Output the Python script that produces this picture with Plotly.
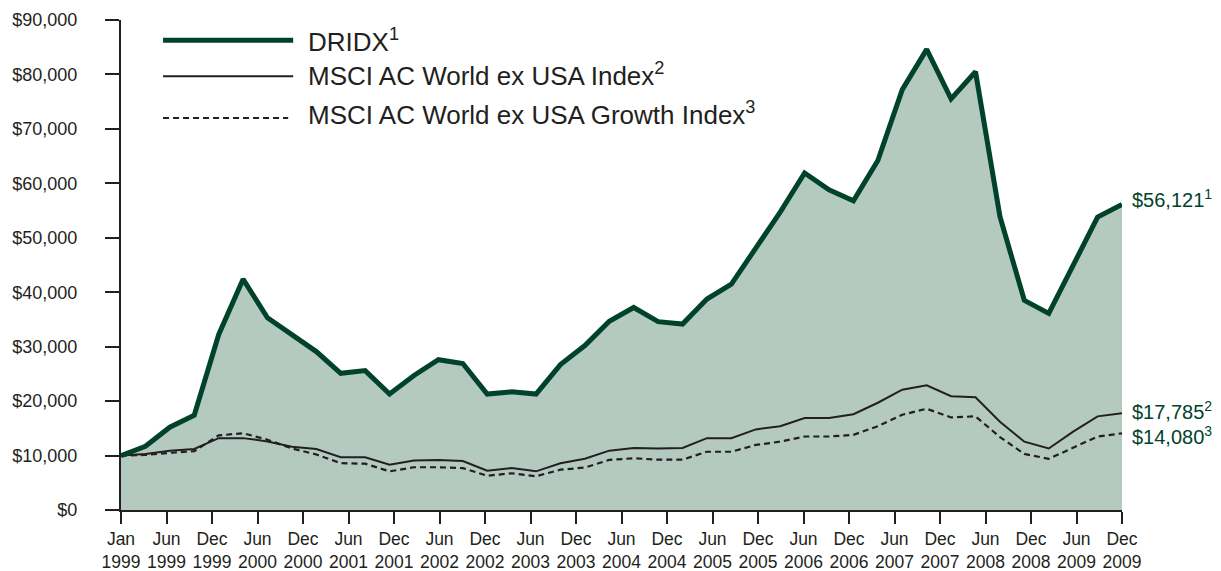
import plotly.graph_objects as go

# growth of $10,000, one value per period (42 points)
dridx = [10000, 11700, 15200, 17400, 32200, 42400, 35300, 32200, 29100, 25100,
         25600, 21300, 24700, 27600, 26900, 21300, 21700, 21300, 26700, 30200,
         34650, 37200, 34600, 34150, 38750, 41500, 48250, 54700, 61900, 58800,
         56800, 64200, 77200, 84600, 75500, 80500, 53900, 38500, 36100, 45200,
         53800, 56121]
msci = [10000, 10300, 10900, 11200, 13200, 13200, 12600, 11600, 11200, 9700,
        9700, 8300, 9100, 9200, 9000, 7200, 7700, 7100, 8600, 9400,
        10900, 11400, 11300, 11400, 13200, 13200, 14800, 15400, 16900, 16900,
        17600, 19700, 22100, 22900, 20900, 20700, 16200, 12550, 11300, 14400,
        17200, 17785]
msci_growth = [10000, 10100, 10500, 10800, 13700, 14100, 12900, 11300, 10200, 8600,
               8500, 7100, 7850, 7850, 7700, 6300, 6750, 6200, 7400, 7800,
               9200, 9500, 9250, 9250, 10700, 10700, 11950, 12550, 13500, 13500,
               13800, 15400, 17500, 18600, 17000, 17200, 13400, 10300, 9400, 11500,
               13500, 14080]

tick_labels = ["Jan<br>1999", "Jun<br>1999", "Dec<br>1999", "Jun<br>2000", "Dec<br>2000",
               "Jun<br>2001", "Dec<br>2001", "Jun<br>2002", "Dec<br>2002", "Jun<br>2003",
               "Dec<br>2003", "Jun<br>2004", "Dec<br>2004", "Jun<br>2005", "Dec<br>2005",
               "Jun<br>2006", "Dec<br>2006", "Jun<br>2007", "Dec<br>2007", "Jun<br>2008",
               "Dec<br>2008", "Jun<br>2009", "Dec<br>2009"]

legend_names = ["DRIDX<sup>1</sup>", "MSCI AC World ex USA Index<sup>2</sup>",
                "MSCI AC World ex USA Growth Index<sup>3</sup>"]
end_labels = ["$56,121<sup>1</sup>", "$17,785<sup>2</sup>", "$14,080<sup>3</sup>"]

GREEN = "#00432a"
FILL = "#b4cac0"
INK = "#231f20"
FONT = "Liberation Sans, Arial, sans-serif"

x = list(range(len(dridx)))
n = len(x) - 1
tickvals = [k * n / (len(tick_labels) - 1) for k in range(len(tick_labels))]

fig = go.Figure()

# shaded area under the fund line
fig.add_trace(go.Scatter(x=x, y=dridx, mode="lines", fill="tozeroy",
                         fillcolor=FILL, line=dict(width=0), hoverinfo="skip",
                         showlegend=False))
fig.add_trace(go.Scatter(x=x, y=msci, mode="lines", name=legend_names[1],
                         line=dict(color=INK, width=2), showlegend=False))
fig.add_trace(go.Scatter(x=x, y=msci_growth, mode="lines", name=legend_names[2],
                         line=dict(color=INK, width=2.2, dash="6px,4px"),
                         showlegend=False))
fig.add_trace(go.Scatter(x=x, y=dridx, mode="lines", name=legend_names[0],
                         line=dict(color=GREEN, width=5), showlegend=False))

# hand drawn legend (long line samples like the original)
leg_rows = [0.9585, 0.885, 0.800]
leg_shift = [0, 2, 4]
leg_styles = [dict(color=GREEN, width=5), dict(color=INK, width=2),
              dict(color=INK, width=2, dash="6px,4px")]
for name, yy, ys, st, x1 in zip(legend_names, leg_rows, leg_shift, leg_styles,
                                [0.172, 0.172, 0.167]):
    fig.add_shape(type="line", xref="paper", yref="paper", x0=0.042, x1=x1,
                  y0=yy, y1=yy, line=st)
    fig.add_annotation(xref="paper", yref="paper", x=0.185, y=yy, text=name,
                       showarrow=False, xanchor="left", yanchor="middle", yshift=ys,
                       font=dict(family=FONT, size=26, color=INK))

# ending values at the right edge
for lab, series, shift in zip(end_labels, [dridx, msci, msci_growth], [6, 3, -2]):
    fig.add_annotation(x=x[-1], y=series[-1], text=lab, showarrow=False,
                       xanchor="left", yanchor="middle", xshift=8, yshift=shift,
                       font=dict(family=FONT, size=20, color=GREEN))

# the page body adds an 8px offset top/left, so the figure is 8px smaller
fig.update_layout(
    width=1213, height=563,
    margin=dict(l=113, r=99, t=12, b=61),
    paper_bgcolor="white", plot_bgcolor="white",
    font=dict(family=FONT, color=INK, size=17),
    xaxis=dict(range=[0, n], tickvals=tickvals, ticktext=tick_labels,
               showgrid=False, zeroline=False, showline=True, linecolor=INK,
               linewidth=2, ticks="outside", ticklen=12, tickwidth=2,
               tickcolor=INK, tickfont=dict(size=17.5), automargin=False),
    yaxis=dict(range=[0, 90000], dtick=10000, tickprefix="$", tickformat=",d",
               showgrid=False, zeroline=False, showline=True, linecolor=INK,
               linewidth=2, ticks="outside", ticklen=14, tickwidth=2,
               tickcolor=INK, ticklabelstandoff=24, tickfont=dict(size=18),
               automargin=False),
)

fig.write_html("out.html")
